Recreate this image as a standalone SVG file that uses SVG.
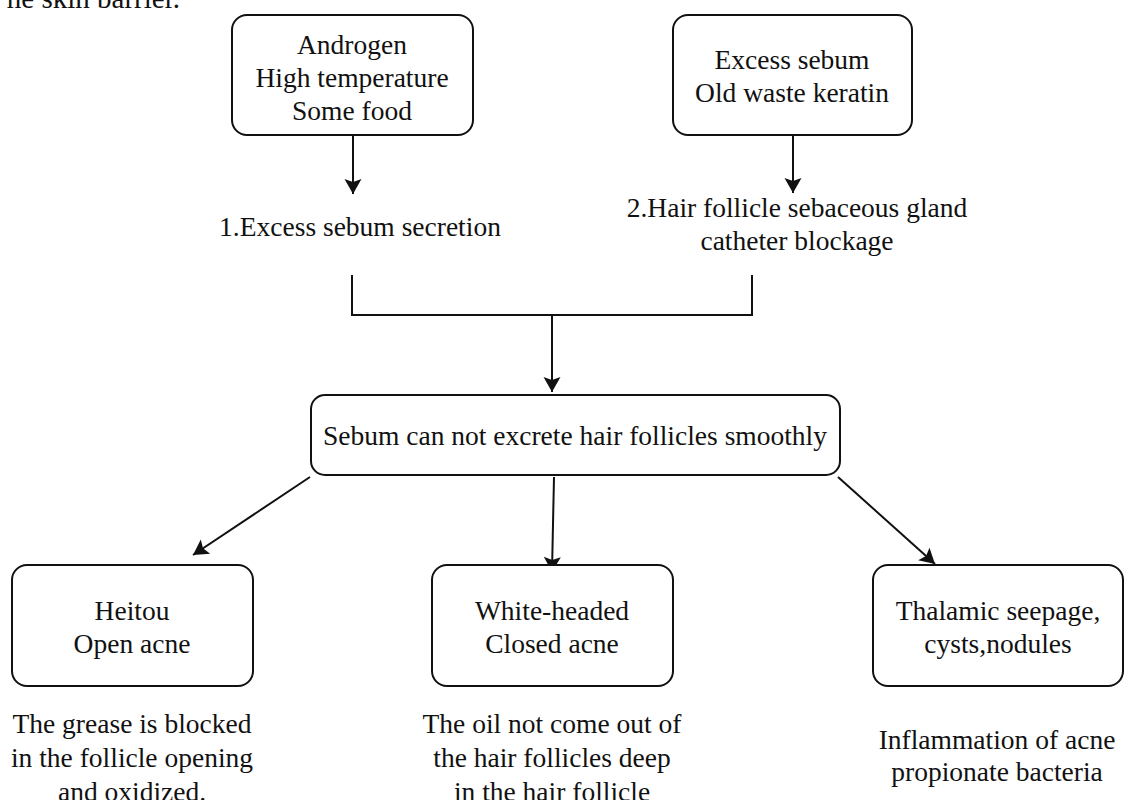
<svg xmlns="http://www.w3.org/2000/svg" width="1124" height="800" viewBox="0 0 1124 800">
<style>
  text { font-family: "Liberation Serif", "Times New Roman", serif; font-size: 27.5px; fill: #111; }
  .c { text-anchor: middle; }
  .box { fill: #fff; stroke: #111; stroke-width: 2; }
  .conn { fill: none; stroke: #111; stroke-width: 2; }
</style>
<defs>
  <marker id="ah" markerUnits="userSpaceOnUse" markerWidth="20" markerHeight="20" viewBox="-1 -10 18 20" refX="15" refY="0" orient="auto">
    <path d="M0,-8.5 L15,0 L0,8.5 L3,0 z" fill="#111"/>
  </marker>
</defs>
<rect width="1124" height="800" fill="#fff"/>
<text x="180" y="8" text-anchor="end" style="font-size:29px">he skin barrier.</text>

<g id="connectors">
  <line class="conn" x1="353" y1="135" x2="353" y2="194" marker-end="url(#ah)"/>
  <line class="conn" x1="793" y1="135" x2="793" y2="193" marker-end="url(#ah)"/>
  <path class="conn" d="M352,275 V315 H752 V275"/>
  <line class="conn" x1="552" y1="315" x2="552" y2="392" marker-end="url(#ah)"/>
  <line class="conn" x1="310" y1="477" x2="193" y2="555" marker-end="url(#ah)"/>
  <line class="conn" x1="554" y1="477" x2="552" y2="572" marker-end="url(#ah)"/>
  <line class="conn" x1="838" y1="477" x2="935" y2="564" marker-end="url(#ah)"/>
</g>

<g id="n-causes1">
  <rect class="box" x="232" y="15" width="241" height="120" rx="15"/>
  <text class="c" x="352" y="54">Androgen</text>
  <text class="c" x="352" y="87">High temperature</text>
  <text class="c" x="352" y="120">Some food</text>
</g>
<g id="n-causes2">
  <rect class="box" x="673" y="15" width="239" height="120" rx="15"/>
  <text class="c" x="792" y="69">Excess sebum</text>
  <text class="c" x="792" y="102">Old waste keratin</text>
</g>
<g id="n-step1">
  <text class="c" x="360" y="236">1.Excess sebum secretion</text>
</g>
<g id="n-step2">
  <text class="c" x="797" y="217">2.Hair follicle sebaceous gland</text>
  <text class="c" x="797" y="250">catheter blockage</text>
</g>
<g id="n-sebum">
  <rect class="box" x="311" y="395" width="529" height="80" rx="14"/>
  <text class="c" x="575" y="445">Sebum can not excrete hair follicles smoothly</text>
</g>
<g id="n-open">
  <rect class="box" x="12" y="565" width="241" height="121" rx="15"/>
  <text class="c" x="132" y="620">Heitou</text>
  <text class="c" x="132" y="653">Open acne</text>
  <text class="c" x="132" y="733">The grease is blocked</text>
  <text class="c" x="132" y="767">in the follicle opening</text>
  <text class="c" x="132" y="801">and oxidized.</text>
</g>
<g id="n-closed">
  <rect class="box" x="432" y="565" width="241" height="121" rx="15"/>
  <text class="c" x="552" y="620">White-headed</text>
  <text class="c" x="552" y="653">Closed acne</text>
  <text class="c" x="552" y="733">The oil not come out of</text>
  <text class="c" x="552" y="767">the hair follicles deep</text>
  <text class="c" x="552" y="801">in the hair follicle</text>
</g>
<g id="n-inflam">
  <rect class="box" x="873" y="565" width="250" height="121" rx="15"/>
  <text class="c" x="998" y="620">Thalamic seepage,</text>
  <text class="c" x="998" y="653">cysts,nodules</text>
  <text class="c" x="997" y="749">Inflammation of acne</text>
  <text class="c" x="997" y="781">propionate bacteria</text>
</g>
</svg>
